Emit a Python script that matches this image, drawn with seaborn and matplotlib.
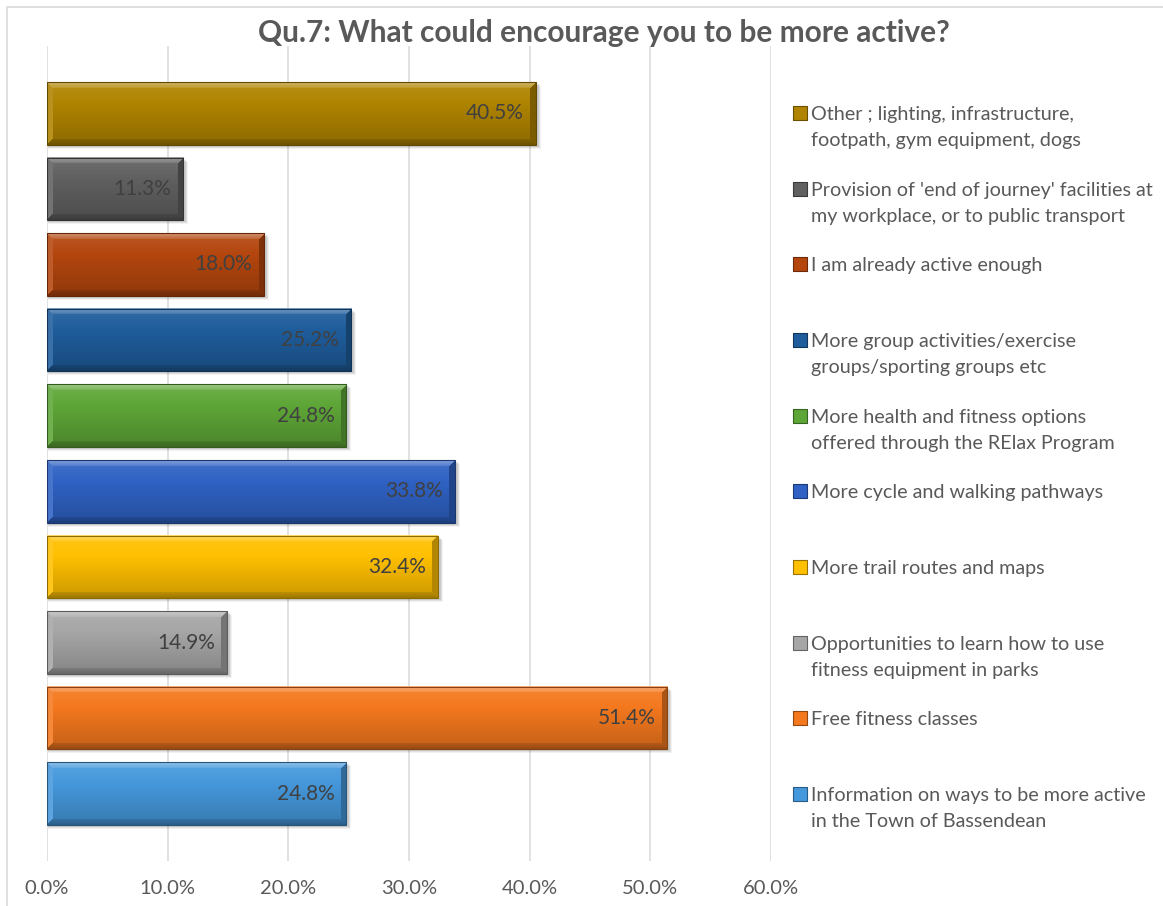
import numpy as np
import pandas as pd
import seaborn as sns
import matplotlib.pyplot as plt
import matplotlib.colors as mcolors
from matplotlib.patches import Rectangle
from matplotlib.transforms import blended_transform_factory, offset_copy

# ---- data ----
categories = [
    "Other ; lighting, infrastructure,\nfootpath, gym equipment, dogs",
    "Provision of 'end of journey' facilities at\nmy workplace, or to public transport",
    "I am already active enough",
    "More group activities/exercise\ngroups/sporting groups etc",
    "More health and fitness options\noffered through the RElax Program",
    "More cycle and walking pathways",
    "More trail routes and maps",
    "Opportunities to learn how to use\nfitness equipment in parks",
    "Free fitness classes",
    "Information on ways to be more active\nin the Town of Bassendean",
]
percentages = [40.5, 11.3, 18.0, 25.2, 24.8, 33.8, 32.4, 14.9, 51.4, 24.8]
bar_colors = ["#B08400", "#606060", "#B4460E", "#1F5D9C", "#5EA637",
              "#2F62C4", "#FFC000", "#A6A6A6", "#F4781E", "#4598DC"]
x_ticks = [0, 10, 20, 30, 40, 50, 60]
title = "Qu.7: What could encourage you to be more active?"

# ---- style ----
sns.set_theme(style="white")
plt.rcParams["font.family"] = ["Lato", "DejaVu Sans"]
TEXT = "#595959"
W, H = 1163, 906
fig = plt.figure(figsize=(W / 100, H / 100), dpi=100)
fig.patch.set_facecolor("white")

# chart frame
fig.patches.append(Rectangle((7 / W, -0.02), 1.05, 1 - 7 / H + 0.02,
                             transform=fig.transFigure, fill=False,
                             edgecolor="#D9D9D9", linewidth=1.2))

ax = fig.add_axes([47 / W, 1 - 861 / H, (771 - 47) / W, (861 - 46) / H])

df = pd.DataFrame({"category": categories, "value": percentages})
sns.barplot(data=df, x="value", y="category", hue="category",
            palette=bar_colors, legend=False, width=0.83, saturation=1,
            ax=ax)

ax.set_xlim(0, 60)
ax.set_ylim(9.89, -0.89)
ax.set_xticks(x_ticks)
ax.set_xticklabels([f"{t:.1f}%" for t in x_ticks], color=TEXT, fontsize=14.5)
ax.tick_params(axis="x", length=0, pad=14)
ax.set_yticks([])
ax.set_xlabel("")
ax.set_ylabel("")
for s in ax.spines.values():
    s.set_visible(False)
ax.grid(axis="x", color="#D9D9D9", linewidth=1.1)
ax.set_axisbelow(True)


def shade(rgb, f):
    rgb = np.asarray(rgb, dtype=float)
    f = np.asarray(f, dtype=float)[..., None]
    return np.where(f >= 0, rgb + (1 - rgb) * f, rgb * (1 + f))


def bevel(rgb, wpx, hpx, b=6.0):
    """Pixel image of a bevelled bar face."""
    wpx, hpx = max(int(round(wpx)), 2), max(int(round(hpx)), 2)
    yy, xx = np.mgrid[0:hpx, 0:wpx] + 0.5
    t = yy / hpx
    f = 0.10 - 0.30 * t                     # body: lighter top, darker bottom
    dt, db, dl, dr = yy, hpx - yy, xx, wpx - xx
    dmin = np.minimum.reduce([dt, db, dl, dr])
    edge = dmin < b
    top = edge & (dt == dmin)
    bot = edge & (db == dmin) & ~top
    lef = edge & (dl == dmin) & ~top & ~bot
    rig = edge & (dr == dmin) & ~top & ~bot & ~lef
    f = np.where(top, 0.42 - 0.25 * dt / b, f)
    f = np.where(bot, -0.38 + 0.12 * db / b, f)
    f = np.where(lef, 0.12, f)
    f = np.where(rig, -0.30, f)
    return np.clip(shade(rgb, f), 0, 1)


# bevelled faces, shadows and value labels
px_per_x = ax.transData.transform((1, 0))[0] - ax.transData.transform((0, 0))[0]
px_per_y = abs(ax.transData.transform((0, 1))[1] - ax.transData.transform((0, 0))[1])
for patch in list(ax.patches):
    x0, y0 = patch.get_xy()
    w, h = patch.get_width(), patch.get_height()
    rgb = mcolors.to_rgb(patch.get_facecolor())
    # soft drop shadow
    for k, a in [(4, 0.05), (3, 0.07), (2, 0.09)]:
        ax.add_patch(Rectangle((x0 + 1 / px_per_x, y0 + k / px_per_y), w + k / px_per_x, h,
                               facecolor="black", alpha=a, edgecolor="none", zorder=1.5))
    img = bevel(rgb, w * px_per_x, h * px_per_y)
    ax.imshow(img, extent=(x0, x0 + w, y0 + h, y0), origin="upper",
              aspect="auto", interpolation="bilinear", zorder=2)
    patch.set_facecolor("none")
    patch.set_edgecolor(shade(rgb, -0.45))
    patch.set_linewidth(0.8)
    patch.set_zorder(3)

for i, v in enumerate(percentages):
    ax.annotate(f"{v:.1f}%", xy=(v, i), xytext=(-12, 0), textcoords="offset pixels",
                ha="right", va="center", fontsize=15, color="#404040", zorder=4)

ax.set_xlim(0, 60)
ax.set_ylim(9.89, -0.89)

# legend entries beside each bar, one text per line with a 26 px line pitch
tr = blended_transform_factory(fig.transFigure, ax.transData)
for i, (lab, col) in enumerate(zip(categories, bar_colors)):
    rgb = mcolors.to_rgb(col)
    ax.scatter([800 / W], [i], transform=tr, marker="s", s=95, clip_on=False,
               facecolor=col, edgecolor=shade(rgb, -0.4), linewidth=0.8, zorder=5)
    for j, line in enumerate(lab.split("\n")):
        ltr = offset_copy(tr, fig=fig, x=0, y=-26 * j, units="dots")
        ax.text(811 / W, i, line, transform=ltr, ha="left", va="center_baseline",
                fontsize=14.2, color=TEXT, clip_on=False)

fig.text(604 / W, 1 - 33 / H, title, ha="center", va="center",
         fontsize=21.5, fontweight="bold", color=TEXT)

fig.savefig("out.png", dpi=100, facecolor="white")
